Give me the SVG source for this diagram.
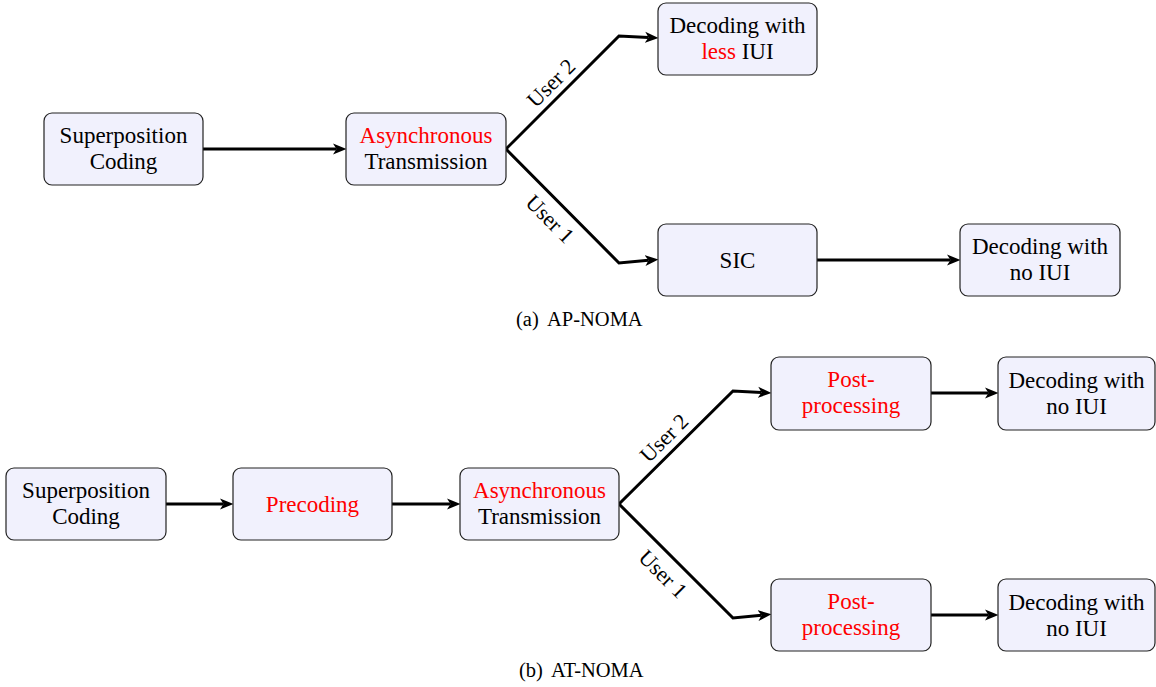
<svg xmlns="http://www.w3.org/2000/svg" width="1156" height="687" viewBox="0 0 1156 687">
  <style>
    text { font-family: "Liberation Serif", "Times New Roman", serif; font-size: 23px; fill: #000; }
    .node rect { fill: #f1f1fd; stroke: #222; stroke-width: 1.2; }
    .node text { text-anchor: middle; }
    .red { fill: #ff0000; }
    .edge { fill: none; stroke: #000; stroke-width: 3; }
    .lbl { font-size: 22px; text-anchor: middle; dominant-baseline: central; }
    .cap { font-size: 20.5px; }
  </style>
  <defs>
    <marker id="arrow" markerUnits="userSpaceOnUse" markerWidth="14" markerHeight="12" viewBox="0 0 14 12" refX="3.5" refY="6" orient="auto">
      <path d="M0,0.5 L13.5,6 L0,11.5 L3.5,6 z" fill="#000"/>
    </marker>
  </defs>

  <rect width="1156" height="687" fill="#fff"/>

  <!-- connectors: thick polylines, each ending in the arrow marker -->
  <g id="connectors">
    <path class="edge" marker-end="url(#arrow)" d="M203,149 H336.5"/>
    <path class="edge" marker-end="url(#arrow)" d="M506,149 L619,36 L648.5,37.5"/>
    <path class="edge" marker-end="url(#arrow)" d="M506,149 L619,263 L648.5,260.3"/>
    <path class="edge" marker-end="url(#arrow)" d="M817,260 H950.5"/>
    <path class="edge" marker-end="url(#arrow)" d="M166,504 H223.5"/>
    <path class="edge" marker-end="url(#arrow)" d="M392,504 H450.5"/>
    <path class="edge" marker-end="url(#arrow)" d="M619,504 L733,391 L761.5,392.5"/>
    <path class="edge" marker-end="url(#arrow)" d="M619,504 L733,618 L761.5,615.3"/>
    <path class="edge" marker-end="url(#arrow)" d="M931,393 H988.5"/>
    <path class="edge" marker-end="url(#arrow)" d="M931,615 H988.5"/>
    <text class="lbl" transform="translate(551,83) rotate(-45)">User 2</text>
    <text class="lbl" transform="translate(550,219) rotate(45)">User 1</text>
    <text class="lbl" transform="translate(664,438) rotate(-45)">User 2</text>
    <text class="lbl" transform="translate(663,574) rotate(45)">User 1</text>
  </g>

  <!-- (a) AP-NOMA -->
  <g id="a-superposition" class="node">
    <rect x="44" y="113" width="159" height="72" rx="8"/>
    <text x="123.5" y="142.5">Superposition</text>
    <text x="123.5" y="168.5">Coding</text>
  </g>
  <g id="a-async" class="node">
    <rect x="346" y="113" width="160" height="72" rx="8"/>
    <text x="426" y="142.5" class="red">Asynchronous</text>
    <text x="426" y="168.5">Transmission</text>
  </g>
  <g id="a-decode-user2" class="node">
    <rect x="658" y="3" width="159" height="72" rx="8"/>
    <text x="737.5" y="32.5">Decoding with</text>
    <text x="737.5" y="58.5"><tspan class="red">less</tspan> IUI</text>
  </g>
  <g id="a-sic" class="node">
    <rect x="658" y="224" width="159" height="72" rx="8"/>
    <text x="737.5" y="268">SIC</text>
  </g>
  <g id="a-decode-user1" class="node">
    <rect x="960" y="224" width="160" height="72" rx="8"/>
    <text x="1040" y="254">Decoding with</text>
    <text x="1040" y="280">no IUI</text>
  </g>
  <text class="cap" x="516" y="326">(a)<tspan x="547">AP-NOMA</tspan></text>

  <!-- (b) AT-NOMA -->
  <g id="b-superposition" class="node">
    <rect x="6" y="468" width="160" height="72" rx="8"/>
    <text x="86" y="497.5">Superposition</text>
    <text x="86" y="523.5">Coding</text>
  </g>
  <g id="b-precoding" class="node">
    <rect x="233" y="468" width="159" height="72" rx="8"/>
    <text x="312.5" y="512" class="red">Precoding</text>
  </g>
  <g id="b-async" class="node">
    <rect x="460" y="468" width="159" height="72" rx="8"/>
    <text x="539.5" y="497.5" class="red">Asynchronous</text>
    <text x="539.5" y="523.5">Transmission</text>
  </g>
  <g id="b-post-user2" class="node">
    <rect x="771" y="357" width="160" height="73" rx="8"/>
    <text x="851" y="387" class="red">Post-</text>
    <text x="851" y="413" class="red">processing</text>
  </g>
  <g id="b-decode-user2" class="node">
    <rect x="998" y="357" width="157" height="73" rx="8"/>
    <text x="1076.5" y="388">Decoding with</text>
    <text x="1076.5" y="414">no IUI</text>
  </g>
  <g id="b-post-user1" class="node">
    <rect x="771" y="579" width="160" height="72" rx="8"/>
    <text x="851" y="609" class="red">Post-</text>
    <text x="851" y="635" class="red">processing</text>
  </g>
  <g id="b-decode-user1" class="node">
    <rect x="998" y="579" width="157" height="72" rx="8"/>
    <text x="1076.5" y="610">Decoding with</text>
    <text x="1076.5" y="636">no IUI</text>
  </g>
  <text class="cap" x="519" y="677">(b)<tspan x="551">AT-NOMA</tspan></text>
</svg>
